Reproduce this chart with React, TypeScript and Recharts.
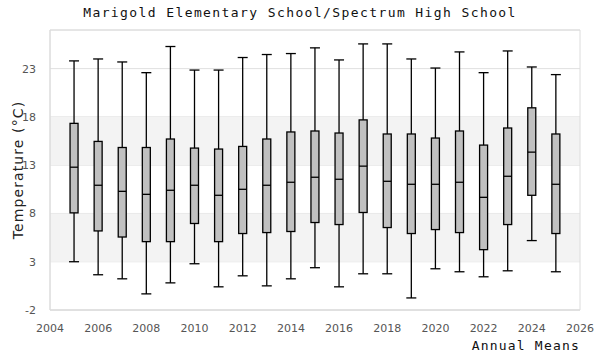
import React from 'react';
import {
  ComposedChart,
  Bar,
  XAxis,
  YAxis,
  CartesianGrid,
  ReferenceArea,
} from 'recharts';

const years = [2005, 2006, 2007, 2008, 2009, 2010, 2011, 2012, 2013, 2014, 2015, 2016, 2017, 2018, 2019, 2020, 2021, 2022, 2023, 2024, 2025];
const mins = [3.0, 1.65, 1.23, -0.33, 0.81, 2.79, 0.4, 1.54, 0.5, 1.23, 2.38, 0.4, 1.75, 1.75, -0.75, 2.27, 1.96, 1.44, 2.06, 5.19, 1.96];
const q1s = [8.06, 6.19, 5.56, 5.08, 5.08, 6.96, 5.08, 5.92, 6.02, 6.13, 7.06, 6.85, 8.1, 6.54, 5.92, 6.33, 6.02, 4.25, 6.85, 9.88, 5.92];
const medians = [12.79, 10.92, 10.29, 9.98, 10.4, 10.92, 9.88, 10.5, 10.92, 11.23, 11.75, 11.54, 12.9, 11.33, 11.02, 11.02, 11.23, 9.67, 11.85, 14.35, 11.02];
const q3s = [17.33, 15.46, 14.83, 14.83, 15.71, 14.77, 14.67, 14.94, 15.71, 16.44, 16.54, 16.33, 17.69, 16.23, 16.23, 15.81, 16.54, 15.08, 16.85, 18.94, 16.23];
const maxs = [23.8, 24.0, 23.69, 22.58, 25.29, 22.85, 22.85, 24.15, 24.46, 24.56, 25.15, 23.9, 25.56, 25.56, 24.0, 23.06, 24.73, 22.58, 24.83, 23.17, 22.38];

const xTicks = [2004, 2006, 2008, 2010, 2012, 2014, 2016, 2018, 2020, 2022, 2024, 2026];
const yTicks = [-2, 3, 8, 13, 18, 23];
const bands = [[3, 8], [13, 18]];

const data = years.map((year, i) => ({
  year,
  range: [mins[i], maxs[i]],
  min: mins[i],
  q1: q1s[i],
  median: medians[i],
  q3: q3s[i],
  max: maxs[i],
}));

const monoFont = '"DejaVu Sans Mono", monospace';

function BoxShape(props: any) {
  const { x, y, width, height, payload } = props;
  const { min, max, q1, median, q3 } = payload;
  const toY = (v: number) => y + (height * (max - v)) / (max - min);
  const cx = x + width / 2;
  const capHalf = 5;
  const yQ3 = toY(q3);
  const yQ1 = toY(q1);
  const yMed = toY(median);
  return (
    <g>
      <line x1={cx} x2={cx} y1={y} y2={y + height} stroke="#000" strokeWidth={1.3} />
      <line x1={cx - capHalf} x2={cx + capHalf} y1={y} y2={y} stroke="#000" strokeWidth={1.3} />
      <line x1={cx - capHalf} x2={cx + capHalf} y1={y + height} y2={y + height} stroke="#000" strokeWidth={1.3} />
      <rect x={x} y={yQ3} width={width} height={yQ1 - yQ3} fill="#c0c0c0" stroke="#000" strokeWidth={1.3} />
      <line x1={x} x2={x + width} y1={yMed} y2={yMed} stroke="#000" strokeWidth={1.3} />
    </g>
  );
}

export default function App() {
  return (
    <div style={{ position: 'absolute', left: 0, top: 0, width: 600, height: 360, background: '#fff' }}>
      <div
        style={{
          position: 'absolute',
          top: 5,
          left: 0,
          width: 600,
          textAlign: 'center',
          fontFamily: monoFont,
          fontSize: 13,
          letterSpacing: 1.4,
          color: '#111',
        }}
      >
        Marigold Elementary School/Spectrum High School
      </div>
      <ComposedChart
        width={600}
        height={360}
        data={data}
        margin={{ top: 30, right: 20, bottom: 0, left: 0 }}
      >
        {bands.map(([a, b]) => (
          <ReferenceArea key={a} y1={a} y2={b} fill="#f3f3f3" fillOpacity={1} stroke="none" />
        ))}
        <CartesianGrid vertical={false} stroke="#e0e0e0" />
        <ReferenceArea x1={2004} x2={2026} y1={-2} y2={27} fill="none" stroke="#dcdcdc" />
        <XAxis
          type="number"
          dataKey="year"
          domain={[2004, 2026]}
          ticks={xTicks}
          height={50}
          axisLine={{ stroke: '#dcdcdc' }}
          tickLine={false}
          tick={{ fontSize: 11, fill: '#555', fontFamily: 'DejaVu Sans' }}
          tickMargin={8}
        />
        <YAxis
          type="number"
          domain={[-2, 27]}
          ticks={yTicks}
          width={50}
          axisLine={{ stroke: '#dcdcdc' }}
          tickLine={false}
          tick={{ fontSize: 11, fill: '#555', fontFamily: 'DejaVu Sans' }}
          tickMargin={8}
          label={{
            value: 'Temperature (°C)',
            angle: -90,
            position: 'insideLeft',
            dx: 13,
            style: { textAnchor: 'middle', fontFamily: 'DejaVu Sans', fontSize: 14, letterSpacing: 1.1, fill: '#222' },
          }}
        />
        <Bar dataKey="range" barSize={8} shape={BoxShape} isAnimationActive={false} />
      </ComposedChart>
      <div
        style={{
          position: 'absolute',
          right: 20,
          top: 338,
          fontFamily: monoFont,
          fontSize: 13,
          letterSpacing: 1.2,
          color: '#111',
        }}
      >
        Annual Means
      </div>
    </div>
  );
}
